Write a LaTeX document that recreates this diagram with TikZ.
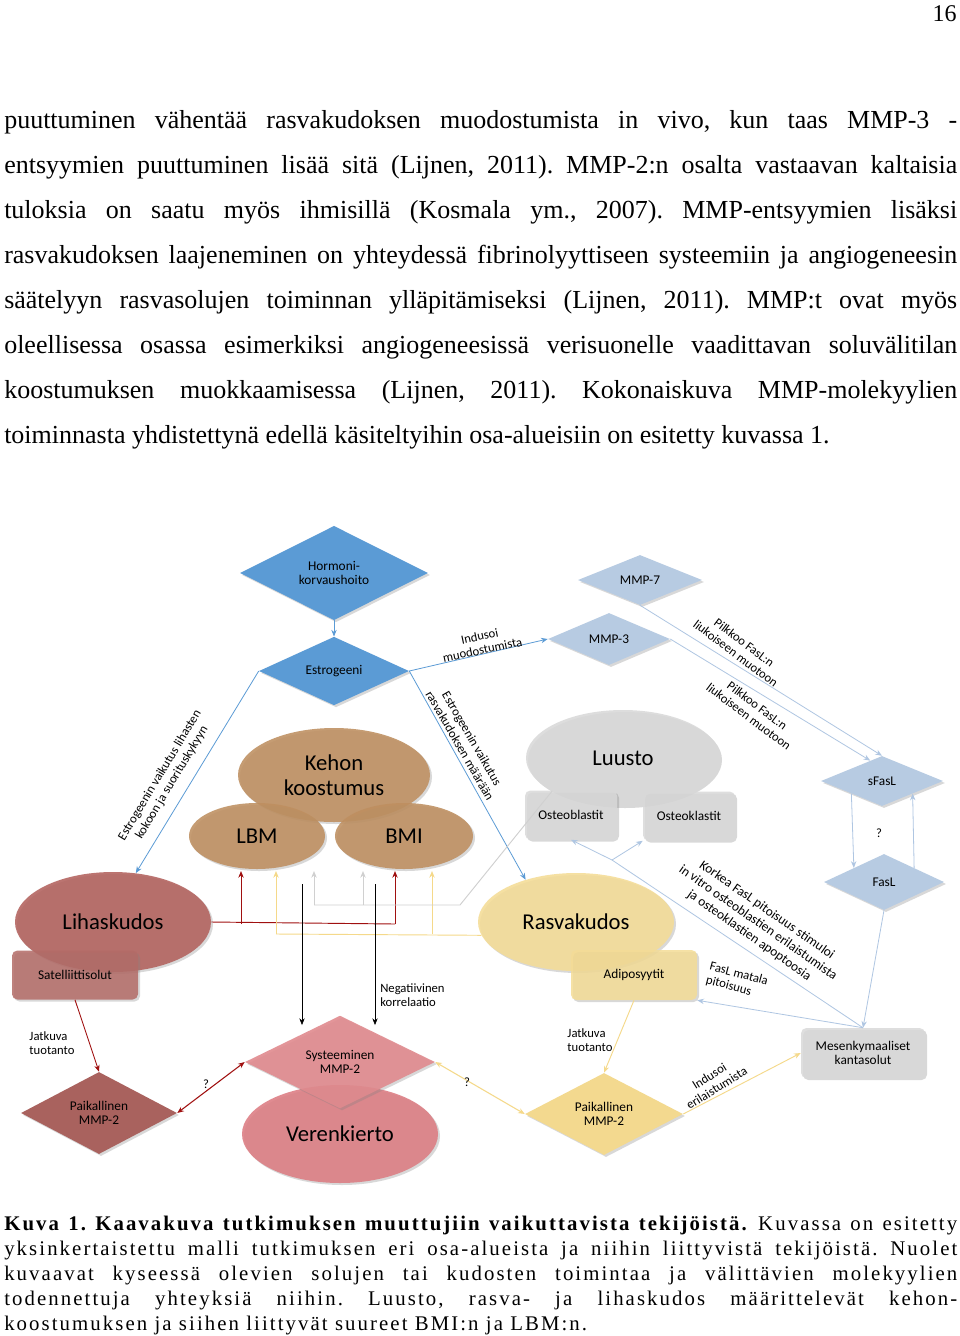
\documentclass[tikz,border=0pt]{standalone}
\usepackage{fontspec}
\setmainfont{Liberation Serif}
\newfontfamily\dfont{Carlito}
\newfontfamily\capfont[LetterSpace=10]{Liberation Serif}
\usetikzlibrary{shapes.geometric,shadows,arrows.meta}
\frenchspacing
\definecolor{blueD}{HTML}{5B9BD5}
\definecolor{lightD}{HTML}{B7CBE2}
\definecolor{tanC}{HTML}{BE8F60}
\definecolor{lihC}{HTML}{B2615D}
\definecolor{satC}{HTML}{B36B67}
\definecolor{rasC}{HTML}{F4DC96}
\definecolor{grayC}{HTML}{D9D9D9}
\definecolor{verC}{HTML}{DC7C82}
\definecolor{sysC}{HTML}{E08A8E}
\definecolor{plC}{HTML}{A9625E}
\definecolor{prC}{HTML}{F3D98F}
\definecolor{dredC}{HTML}{A01010}
\definecolor{ylineC}{HTML}{F5D98A}
\definecolor{glineC}{HTML}{D0D0D0}
\definecolor{ltblue}{HTML}{AFC6E2}
\newlength\lw \setlength\lw{714.75pt}
\newcommand\jl[2]{\node[anchor=base west,inner sep=0] at (4,#1) {\makebox[\lw][s]{#2}};}
\newcommand\capsz{\capfont\fontsize{15.6}{18}\selectfont}
\newcommand\cl[2]{\node[anchor=base west,inner sep=0,font=\capsz] at (4,#1) {\makebox[\lw][s]{#2}};}
\tikzset{
  shd/.style={drop shadow={opacity=.3,shadow xshift=1.5pt,shadow yshift=-1.5pt}},
  dia/.style n args={3}{diamond,inner sep=0,minimum width=#1*0.75pt,minimum height=#2*0.75pt,fill=#3,align=center,font=\dfont\fontsize{10}{11}\selectfont,shd},
  ell/.style n args={3}{ellipse,inner sep=0,minimum width=#1*0.75pt,minimum height=#2*0.75pt,fill=#3,fill opacity=.88,text opacity=1,align=center,font=\dfont\fontsize{17}{19}\selectfont,shd},
  bx/.style n args={3}{rectangle,rounded corners=4pt,inner sep=0,minimum width=#1*0.75pt,minimum height=#2*0.75pt,fill=#3,fill opacity=.85,text opacity=1,align=center,font=\dfont\fontsize{10}{11}\selectfont,shd},
  lab/.style={font=\dfont\fontsize{9.5}{10.5}\selectfont,align=center,inner sep=0},
  barrow/.style={blueD,-{Stealth[length=5pt,width=4pt]},line width=0.6pt},
  larrow/.style={ltblue,-{Stealth[length=5pt,width=4pt]},line width=0.6pt},
  lline/.style={ltblue,line width=0.6pt},
  rarrow/.style={dredC,-{Stealth[length=5pt,width=4pt]},line width=0.7pt},
  yarrow/.style={ylineC,-{Stealth[length=5pt,width=4pt]},line width=0.7pt},
  garrow/.style={glineC,-{Stealth[length=5pt,width=4pt]},line width=0.7pt},
  karrow/.style={black,-{Stealth[length=5pt,width=4pt]},line width=0.5pt},
}
\begin{document}
\begin{tikzpicture}[x=0.75pt,y=-0.75pt]
\useasboundingbox[fill=white] (0,0) rectangle (960,1336);
\node[anchor=base east,inner sep=0,font=\fontsize{18}{20}\selectfont] (pg) at (957,21) {16};
\begin{scope}[font=\fontsize{19.5}{22}\selectfont]
\jl{128}{puuttuminen vähentää rasvakudoksen muodostumista in vivo, kun taas MMP-3 -}
\jl{173}{entsyymien puuttuminen lisää sitä (Lijnen, 2011). MMP-2:n osalta vastaavan kaltaisia}
\jl{218}{tuloksia on saatu myös ihmisillä (Kosmala ym., 2007). MMP-entsyymien lisäksi}
\jl{263}{rasvakudoksen laajeneminen on yhteydessä fibrinolyyttiseen systeemiin ja angiogeneesin}
\jl{308}{säätelyyn rasvasolujen toiminnan ylläpitämiseksi (Lijnen, 2011). MMP:t ovat myös}
\jl{353}{oleellisessa osassa esimerkiksi angiogeneesissä verisuonelle vaadittavan soluvälitilan}
\jl{398}{koostumuksen muokkaamisessa (Lijnen, 2011). Kokonaiskuva MMP-molekyylien}
\node[anchor=base west,inner sep=0] (l8) at (4,443) {toiminnasta yhdistettynä edellä käsiteltyihin osa-alueisiin on esitetty kuvassa 1.};
\end{scope}
% shapes
\node[dia={188}{86}{blueD}] (hor) at (334,573) {Hormoni-\\korvaushoito};
\node[dia={150}{48}{blueD}] (est) at (334,671) {Estrogeeni};
\node[dia={124}{50}{lightD}] (m7) at (640,580) {MMP-7};
\node[dia={122}{52}{lightD}] (m3) at (609,639) {MMP-3};
\node[dia={122}{50}{lightD}] (sf) at (882,781) {sFasL};
\node[dia={120}{56}{lightD}] (fas) at (884,882) {FasL};
\node[ell={192}{94}{tanC}] (keh) at (334,775) {Kehon\\koostumus};
\node[ell={136}{66}{tanC}] (lbm) at (257,836) {LBM};
\node[ell={138}{66}{tanC}] (bmi) at (404,836) {BMI};
\node[ell={194}{96}{grayC}] (lu) at (623,758) {Luusto};
\node[bx={92}{49}{grayC}] (ob) at (571,815) {Osteoblastit};
\node[bx={92}{49}{grayC}] (ok) at (689,816) {Osteoklastit};
\node[ell={196}{100}{lihC}] (lih) at (113,922) {Lihaskudos};
\node[bx={126}{49}{satC}] (sat) at (75,975) {Satelliittisolut};
\node[ell={196}{98}{rasC}] (ras) at (576,922) {Rasvakudos};
\node[bx={126}{50}{rasC}] (ad) at (634,975) {Adiposyytit};
\node[ell={196}{98}{verC}] (ver) at (340,1134) {Verenkierto};
\node[dia={190}{68}{sysC},fill opacity=.9,text opacity=1] (sys) at (340,1062) {Systeeminen\\MMP-2};
\node[dia={156}{66}{plC}] (pl) at (99,1113) {Paikallinen\\MMP-2};
\node[dia={158}{68}{prC}] (pr) at (604,1114) {Paikallinen\\MMP-2};
\node[bx={124}{50}{grayC}] (mes) at (863,1053) {Mesenkymaaliset\\kantasolut};
% connectors top
\draw[barrow] (hor.south) -- (est.north);
\draw[barrow] (est.west) -- (lih.65);
\draw[barrow] (est.east) -- (ras.140);
\draw[barrow] (est.east) -- (m3.west);
\node[lab,rotate=59] (t1) at (166,779) {Estrogeenin vaikutus lihasten\\kokoon ja suorituskykyyn};
\node[lab,rotate=-60] (t2) at (466,742) {Estrogeenin vaikutus\\rasvakudoksen määrään};
\node[lab,rotate=12] (t3) at (481,643) {Indusoi\\muodostumista};
\draw[larrow] (m7.south) -- (sf.north);
\draw[larrow] (m3.east) -- (sf.120);
\node[lab,rotate=-37] (t4) at (740,648) {Pilkkoo FasL:n\\liukoiseen muotoon};
\node[lab,rotate=-37] (t5) at (753,711) {Pilkkoo FasL:n\\liukoiseen muotoon};
\draw[larrow] (sf.south west) -- (fas.north west);
\draw[larrow] (fas.north east) -- (sf.south east);
\node[lab] (q3) at (879,833) {?};
\draw[larrow] (fas.south) -- (mes.north);
\coordinate (br) at (612,860);
\draw[lline] (mes.north) -- (br);
\draw[larrow] (br) -- (ob.south);
\draw[larrow] (br) -- (ok.south west);
\node[lab,rotate=-35,font=\dfont\fontsize{10}{11.5}\selectfont] (t6) at (758,923) {Korkea FasL pitoisuus stimuloi\\in vitro osteoblastien erilaistumista\\ja osteoklastien apoptoosia};
\draw[larrow] (mes.north) -- (ad.south east);
\node[lab,rotate=-15,align=left] (t7) at (737,981) {FasL matala\\pitoisuus};
% tissue -> LBM/BMI
\coordinate (r1) at (241,924); \coordinate (r2) at (395,924);
\coordinate (r1t) at (241,871); \coordinate (r2t) at (395,871);
\draw[dredC,line width=0.7pt] (lih.east) -- (r2);
\draw[rarrow] (r1) -- (r1t);
\draw[rarrow] (r2) -- (r2t);
\coordinate (y1) at (276,934); \coordinate (y2) at (432,934);
\coordinate (y1t) at (276,871); \coordinate (y2t) at (432,871);
\draw[ylineC,line width=0.7pt] (ras.188) -- (y1);
\draw[yarrow] (y1) -- (y1t);
\draw[yarrow] (y2) -- (y2t);
\coordinate (g0) at (460,905); \coordinate (g1) at (314,905); \coordinate (g2) at (363,905);
\coordinate (g1t) at (314,871); \coordinate (g2t) at (363,871);
\draw[glineC,line width=0.7pt] (lu.205) -- (g0) -- (g1);
\draw[garrow] (g1) -- (g1t);
\draw[garrow] (g2) -- (g2t);
\coordinate (k1) at (302,884); \coordinate (k2) at (375,884);
\coordinate (k1b) at (302,1025); \coordinate (k2b) at (375,1025);
\draw[karrow] (k1) -- (k1b);
\draw[karrow] (k2) -- (k2b);
\node[lab,align=left,anchor=west] (t8) at (380,995) {Negatiivinen\\korrelaatio};
% bottom
\draw[rarrow] (sat.south) -- (pl.north);
\node[lab,align=left] (t9) at (52,1043) {Jatkuva\\tuotanto};
\draw[dredC,line width=0.8pt,{Stealth[length=5pt,width=4pt]}-{Stealth[length=5pt,width=4pt]}] (pl.east) -- (sys.west);
\node[lab] (q1) at (206,1084) {?};
\draw[ylineC,line width=0.8pt,{Stealth[length=5pt,width=4pt]}-{Stealth[length=5pt,width=4pt]}] (sys.east) -- (pr.west);
\node[lab] (q2) at (467,1082) {?};
\draw[yarrow] (ad.south) -- (pr.north);
\node[lab,align=left] (t10) at (590,1040) {Jatkuva\\tuotanto};
\draw[yarrow] (pr.east) -- (mes.west);
\node[lab,rotate=32] (t11) at (713,1082) {Indusoi\\erilaistumista};
% caption
\cl{1230}{\textbf{Kuva 1. Kaavakuva tutkimuksen muuttujiin vaikuttavista tekijöistä.} Kuvassa on esitetty}
\cl{1255}{yksinkertaistettu malli tutkimuksen eri osa-alueista ja niihin liittyvistä tekijöistä. Nuolet}
\cl{1280}{kuvaavat kyseessä olevien solujen tai kudosten toimintaa ja välittävien molekyylien}
\cl{1305}{todennettuja yhteyksiä niihin. Luusto, rasva- ja lihaskudos määrittelevät kehon-}
\node[anchor=base west,inner sep=0,font=\capsz] (c5) at (4,1330) {koostumuksen ja siihen liittyvät suureet BMI:n ja LBM:n.};
\end{tikzpicture}
\end{document}
